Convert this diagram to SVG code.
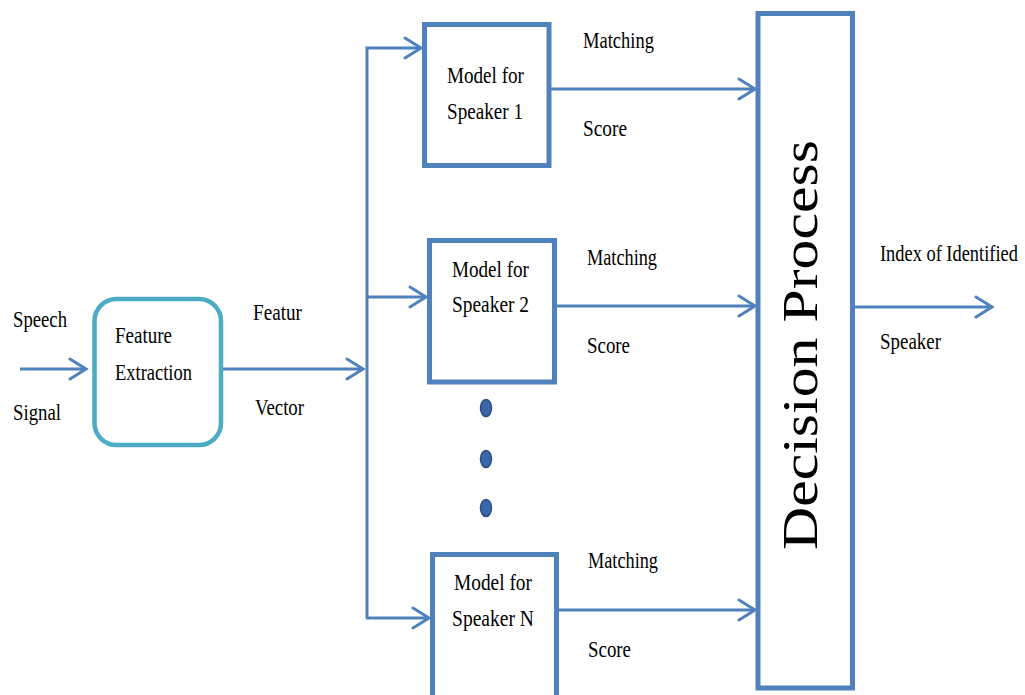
<svg xmlns="http://www.w3.org/2000/svg" width="1025" height="695" viewBox="0 0 1025 695">
  <style>
    .lbl { font-family: "Liberation Serif", "Times New Roman", serif; font-size: 24px; fill: #000; }
    .big { font-family: "Liberation Serif", "Times New Roman", serif; font-size: 51px; fill: #000; }
    .box { fill: #fff; stroke: #4F81BD; stroke-width: 5; }
    .fe { fill: #fff; stroke: #4BACC6; stroke-width: 4.5; }
    .wire { fill: none; stroke: #4F81BD; stroke-width: 3; }
    .dot { fill: #3A67A6; stroke: #2C4F82; stroke-width: 1.5; }
  </style>
  <defs>
    <marker id="arrow" markerUnits="userSpaceOnUse" viewBox="-20 -12 24 24" refX="0" refY="0" markerWidth="24" markerHeight="24" orient="auto">
      <path d="M-16,-10 L0,0 L-16,10" fill="none" stroke="#4F81BD" stroke-width="3" stroke-linecap="round" stroke-linejoin="miter"/>
    </marker>
  </defs>
  <rect width="1025" height="695" fill="#fff"/>

  <!-- connectors -->
  <g id="connectors">
    <path class="wire" d="M20,369 H86" marker-end="url(#arrow)"/>
    <path class="wire" d="M223,369 H363" marker-end="url(#arrow)"/>
    <path class="wire" d="M367,618 V48 H421" marker-end="url(#arrow)"/>
    <path class="wire" d="M367,297 H426" marker-end="url(#arrow)"/>
    <path class="wire" d="M366,618 H429" marker-end="url(#arrow)"/>
    <path class="wire" d="M551,89 H755" marker-end="url(#arrow)"/>
    <path class="wire" d="M557,306 H755" marker-end="url(#arrow)"/>
    <path class="wire" d="M559,610 H755" marker-end="url(#arrow)"/>
    <path class="wire" d="M855,307 H992" marker-end="url(#arrow)"/>
  </g>

  <!-- input / output labels -->
  <g id="labels">
    <text class="lbl" x="13" y="327" textLength="54" lengthAdjust="spacingAndGlyphs">Speech</text>
    <text class="lbl" x="13" y="420" textLength="48" lengthAdjust="spacingAndGlyphs">Signal</text>
    <text class="lbl" x="253" y="320" textLength="49" lengthAdjust="spacingAndGlyphs">Featur</text>
    <text class="lbl" x="255" y="415" textLength="49" lengthAdjust="spacingAndGlyphs">Vector</text>
    <text class="lbl" x="583" y="48" textLength="71" lengthAdjust="spacingAndGlyphs">Matching</text>
    <text class="lbl" x="583" y="136" textLength="44" lengthAdjust="spacingAndGlyphs">Score</text>
    <text class="lbl" x="587" y="265" textLength="70" lengthAdjust="spacingAndGlyphs">Matching</text>
    <text class="lbl" x="587" y="353" textLength="43" lengthAdjust="spacingAndGlyphs">Score</text>
    <text class="lbl" x="588" y="568" textLength="70" lengthAdjust="spacingAndGlyphs">Matching</text>
    <text class="lbl" x="588" y="657" textLength="43" lengthAdjust="spacingAndGlyphs">Score</text>
    <text class="lbl" transform="translate(880,261) scale(0.8,1)" x="0" y="0" style="font-size:23px">Index of Identified</text>
    <text class="lbl" x="880" y="349" textLength="61" lengthAdjust="spacingAndGlyphs">Speaker</text>
  </g>

  <!-- feature extraction -->
  <g id="feature-extraction">
    <rect class="fe" x="94.5" y="299" width="126.5" height="146" rx="22" ry="22"/>
    <text class="lbl" x="115" y="343" textLength="57" lengthAdjust="spacingAndGlyphs">Feature</text>
    <text class="lbl" x="115" y="380" textLength="77" lengthAdjust="spacingAndGlyphs">Extraction</text>
  </g>

  <!-- speaker models -->
  <g id="model-1">
    <rect class="box" x="424.5" y="24.5" width="124.5" height="141"/>
    <text class="lbl" x="447" y="83" textLength="77" lengthAdjust="spacingAndGlyphs">Model for</text>
    <text class="lbl" x="447" y="119" textLength="76" lengthAdjust="spacingAndGlyphs">Speaker 1</text>
  </g>
  <g id="model-2">
    <rect class="box" x="429.5" y="240.5" width="125" height="141.5"/>
    <text class="lbl" x="452" y="277" textLength="77" lengthAdjust="spacingAndGlyphs">Model for</text>
    <text class="lbl" x="452" y="312" textLength="77" lengthAdjust="spacingAndGlyphs">Speaker 2</text>
  </g>
  <g id="ellipsis">
    <ellipse class="dot" cx="486" cy="408" rx="5.5" ry="8.5"/>
    <ellipse class="dot" cx="486" cy="459" rx="5.5" ry="8.5"/>
    <ellipse class="dot" cx="486" cy="508" rx="5.5" ry="8.5"/>
  </g>
  <g id="model-n">
    <rect class="box" x="432.5" y="554.5" width="124" height="150"/>
    <text class="lbl" x="454" y="590" textLength="78" lengthAdjust="spacingAndGlyphs">Model for</text>
    <text class="lbl" x="452" y="626" textLength="82" lengthAdjust="spacingAndGlyphs">Speaker N</text>
  </g>

  <!-- decision -->
  <g id="decision-process">
    <rect class="box" x="758" y="13.5" width="94.5" height="674.5"/>
    <text class="big" transform="translate(817,345) rotate(-90)" text-anchor="middle" textLength="410" lengthAdjust="spacingAndGlyphs">Decision Process</text>
  </g>
</svg>
